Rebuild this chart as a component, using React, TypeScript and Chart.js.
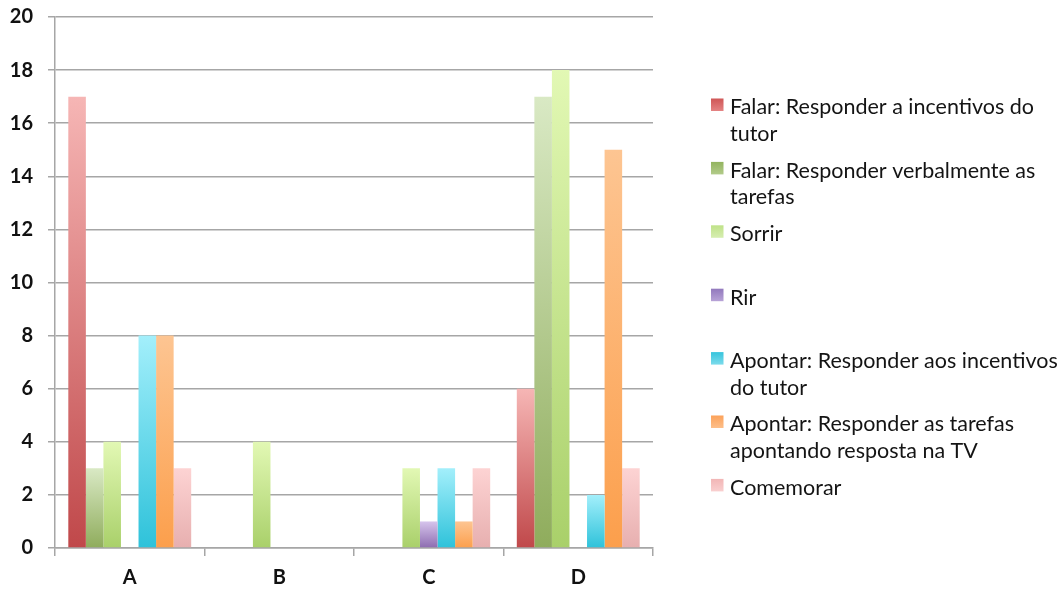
import React, { useEffect, useRef } from "react";
import { Chart, registerables } from "chart.js";

Chart.register(...registerables);

// Categories on the x axis
const categories = ["A", "B", "C", "D"];

// Series values, one array per behaviour
const falarIncentivos = [17, 0, 0, 6];
const falarTarefas = [3, 0, 0, 17];
const sorrir = [4, 4, 3, 18];
const rir = [0, 0, 1, 0];
const apontarIncentivos = [8, 0, 3, 2];
const apontarTarefas = [8, 0, 1, 15];
const comemorar = [3, 0, 3, 3];

// Legend labels, split into the lines they are printed on
const seriesLabels = [
  ["Falar: Responder a incentivos do", "tutor"],
  ["Falar: Responder verbalmente as", "tarefas"],
  ["Sorrir"],
  ["Rir"],
  ["Apontar: Responder aos incentivos", "do tutor"],
  ["Apontar: Responder as tarefas", "apontando resposta na TV"],
  ["Comemorar"],
];

const seriesValues = [
  falarIncentivos,
  falarTarefas,
  sorrir,
  rir,
  apontarIncentivos,
  apontarTarefas,
  comemorar,
];

// Gradient stops per series: [top, bottom]
const seriesGradients: [string, string][] = [
  ["#f6b6b5", "#c0484a"],
  ["#d9e9c4", "#8fac5c"],
  ["#e2f8b4", "#a9d06a"],
  ["#d6c4ec", "#8d6cb0"],
  ["#a3effb", "#2ec2da"],
  ["#fdc592", "#fc9f4c"],
  ["#fdd3d3", "#e7afaf"],
];
// Legend swatch shading: [top, bottom]
const swatchGradients: [string, string][] = [
  ["#cf5656", "#e58585"],
  ["#93b45f", "#b3cc8c"],
  ["#bfe288", "#d7eeb2"],
  ["#9279bd", "#b9a5d8"],
  ["#36c4dd", "#7fdcec"],
  ["#fca25a", "#fdc08c"],
  ["#f2b6b6", "#f9d0d0"],
];
const seriesSwatches = [
  "#d15e5e",
  "#9cbb68",
  "#c6e694",
  "#9c82c2",
  "#45cbe2",
  "#fca964",
  "#f5c1c1",
];

const yTicks = [0, 2, 4, 6, 8, 10, 12, 14, 16, 18, 20];

const legendPlugin = {
  id: "sideLegend",
  afterDraw(chart: any) {
    const ctx = chart.ctx as CanvasRenderingContext2D;
    const startY = 107.5;
    const step = 63.4;
    const lineGap = 26.5;
    const swatchX = chart.chartArea.right + 58;
    const textX = swatchX + 19;
    ctx.save();
    ctx.font = '21.5px "Lato", sans-serif';
    ctx.textBaseline = "middle";
    ctx.textAlign = "left";
    seriesLabels.forEach((lines, i) => {
      const y = startY + i * step;
      const g = ctx.createLinearGradient(0, y - 9, 0, y + 4);
      g.addColorStop(0, swatchGradients[i][0]);
      g.addColorStop(1, swatchGradients[i][1]);
      ctx.fillStyle = g;
      ctx.fillRect(swatchX, y - 9, 12.5, 12.5);
      ctx.fillStyle = "#141414";
      lines.forEach((line, j) => {
        ctx.fillText(line, textX, y + j * lineGap);
      });
    });
    ctx.restore();
  },
};

function barGradient(i: number) {
  return (c: any) => {
    const chart = c.chart;
    if (c.type !== "data" || !chart.chartArea) return seriesSwatches[i];
    const y = chart.scales.y;
    const top = y.getPixelForValue(c.raw);
    const base = y.getPixelForValue(0);
    if (!isFinite(top) || Math.abs(base - top) < 1) return seriesSwatches[i];
    const g = chart.ctx.createLinearGradient(0, top, 0, base);
    g.addColorStop(0, seriesGradients[i][0]);
    g.addColorStop(1, seriesGradients[i][1]);
    return g;
  };
}

const tickFont = { family: '"Lato", sans-serif', size: 20, weight: "bold" as const };

export default function App() {
  const canvasRef = useRef<HTMLCanvasElement>(null);

  useEffect(() => {
    const canvas = canvasRef.current;
    if (!canvas) return;
    const chart = new Chart(canvas, {
      type: "bar",
      data: {
        labels: categories,
        datasets: seriesValues.map((values, i) => ({
          label: seriesLabels[i].join(" "),
          data: values,
          backgroundColor: barGradient(i),
          borderWidth: 0,
          barPercentage: 1,
          categoryPercentage: 0.822,
        })),
      },
      options: {
        responsive: false,
        animation: false,
        maintainAspectRatio: false,
        layout: { padding: { top: 17, right: 404, left: 0, bottom: 0 } },
        plugins: {
          legend: { display: false },
          tooltip: { enabled: false },
        },
        scales: {
          x: {
            offset: true,
            grid: {
              offset: true,
              drawOnChartArea: false,
              drawTicks: true,
              tickLength: 8,
              color: "#a6a6a6",
              lineWidth: 1.5,
            },
            border: { color: "#a6a6a6", width: 1.5 },
            ticks: {
              color: "#111",
              padding: 10,
              font: tickFont,
            },
            afterFit(scale: any) {
              scale.height = 42;
              scale.paddingLeft = 0;
              scale.paddingRight = 0;
            },
          },
          y: {
            min: 0,
            max: 20,
            afterBuildTicks(scale: any) {
              scale.ticks = yTicks.map((v) => ({ value: v }));
            },
            grid: {
              color: "#a6a6a6",
              lineWidth: 1.5,
              drawTicks: true,
              tickLength: 7,
            },
            border: { color: "#a6a6a6", width: 1.5 },
            ticks: {
              color: "#111",
              padding: 15,
              font: tickFont,
            },
            afterFit(scale: any) {
              scale.width = 55;
              scale.paddingTop = 0;
              scale.paddingBottom = 0;
            },
          },
        },
      },
      plugins: [legendPlugin],
    });
    return () => chart.destroy();
  }, []);

  return (
    <div style={{ position: "fixed", left: 0, top: 0, width: 1057, height: 590, background: "#fff" }}>
      <canvas ref={canvasRef} width={1057} height={590} style={{ width: 1057, height: 590 }} />
    </div>
  );
}
